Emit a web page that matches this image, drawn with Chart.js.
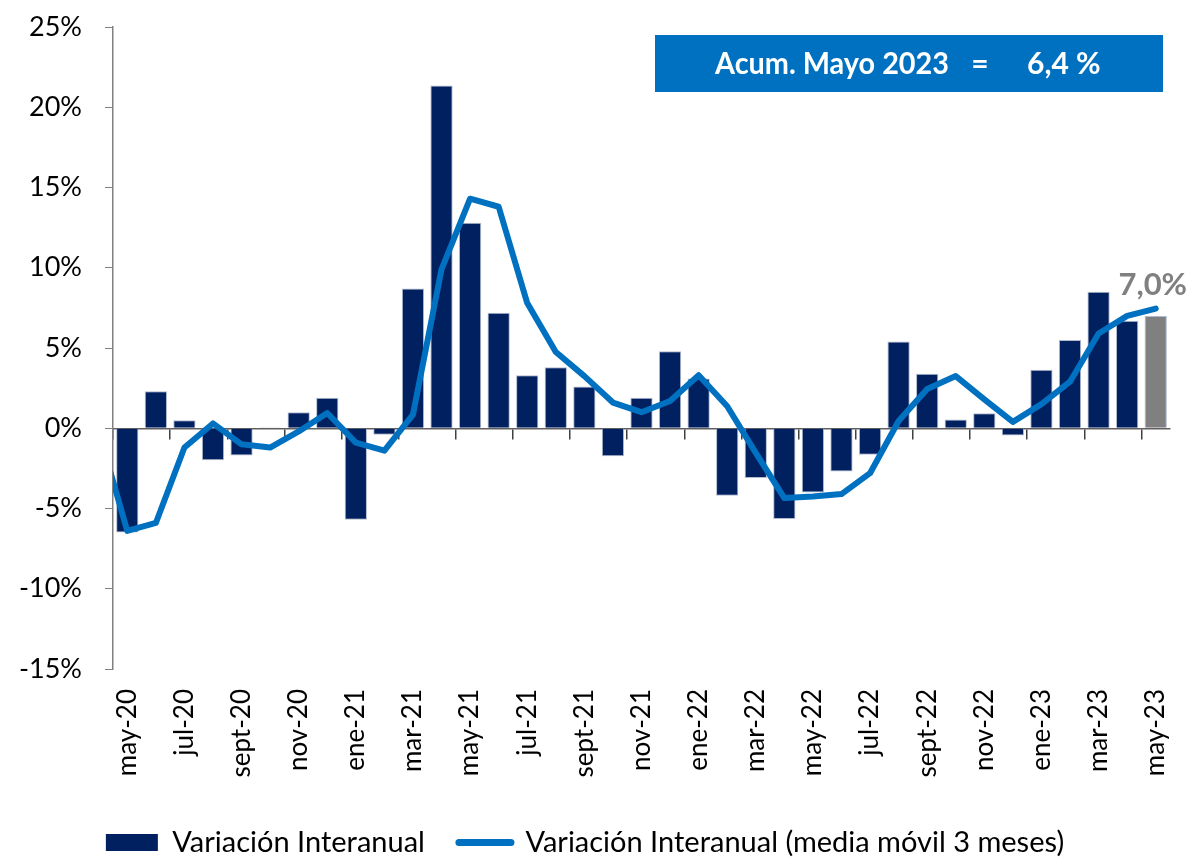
<!DOCTYPE html>
<html lang="es">
<head>
<meta charset="utf-8">
<title>Variación Interanual</title>
<script src="https://cdn.jsdelivr.net/npm/chart.js@4.4.1/dist/chart.umd.min.js"></script>
<style>
  html, body { margin: 0; padding: 0; background: #fff; }
  #wrap { width: 1191px; height: 861px; }
</style>
</head>
<body>
<div id="wrap"><canvas id="chart" width="1191" height="861"></canvas></div>
<script>
// abr-20 only carries the moving average (the line comes in from the left edge)
const months = [
  "abr-20", "may-20", "jun-20", "jul-20", "ago-20", "sept-20", "oct-20", "nov-20", "dic-20",
  "ene-21", "feb-21", "mar-21", "abr-21", "may-21", "jun-21", "jul-21", "ago-21", "sept-21", "oct-21", "nov-21", "dic-21",
  "ene-22", "feb-22", "mar-22", "abr-22", "may-22", "jun-22", "jul-22", "ago-22", "sept-22", "oct-22", "nov-22", "dic-22",
  "ene-23", "feb-23", "mar-23", "abr-23", "may-23"
];
const variacion = [
  null, -6.5, 2.3, 0.5, -2.0, -1.7, 0.05, 1.0, 1.9,
  -5.7, -0.4, 8.7, 21.35, 12.8, 7.2, 3.3, 3.8, 2.6, -1.75, 1.9, 4.8,
  3.1, -4.2, -3.1, -5.65, -4.0, -2.7, -1.65, 5.4, 3.4, 0.55, 0.93, -0.45,
  3.65, 5.5, 8.5, 6.7, 7.0
];
const mediaMovil = [
  -0.2, -6.4, -5.9, -1.2, 0.3, -1.0, -1.2, -0.2, 0.95,
  -0.9, -1.4, 0.85, 9.9, 14.3, 13.8, 7.8, 4.75, 3.25, 1.6, 1.0, 1.7,
  3.3, 1.37, -1.53, -4.35, -4.25, -4.1, -2.8, 0.45, 2.45, 3.25, 1.8, 0.4,
  1.5, 2.9, 5.9, 7.0, 7.45
];
const yTicks = [-15, -10, -5, 0, 5, 10, 15, 20, 25];
const acumText = ["Acum. Mayo 2023", "=", "6,4 %"];

const NAVY = "#002060";
const GREY = "#808080";
const BLUE = "#0070C0";
const FONT = "Lato, 'Open Sans', sans-serif";

Chart.defaults.font.family = FONT;

const lastIdx = months.length - 1;
const firstShown = months[1];

const fmtPct = v => v.toFixed(1).replace(".", ",") + "%";

// let layout.padding alone decide the plot edges
function noPad(scale) {
  scale.paddingLeft = 0;
  scale.paddingRight = 0;
  scale.paddingTop = 0;
  scale.paddingBottom = 0;
}

// grey value label over the last bar
const lastLabel = {
  id: "lastLabel",
  afterDatasetsDraw(chart) {
    let meta = chart.getDatasetMeta(0);
    let bar = meta.data[lastIdx];
    if (!bar) return;
    let ctx = chart.ctx;
    ctx.save();
    ctx.font = "bold 31px " + FONT;
    ctx.fillStyle = GREY;
    ctx.textAlign = "center";
    ctx.textBaseline = "middle";
    ctx.fillText(fmtPct(variacion[lastIdx]), bar.x - 3, bar.y - 31);
    ctx.restore();
  }
};

// blue box with the year-to-date figure
const acumBox = {
  id: "acumBox",
  afterDraw(chart) {
    let ctx = chart.ctx;
    let right = chart.chartArea.right - 7;
    let left = right - 508;
    let top = 35, h = 57;
    ctx.save();
    ctx.fillStyle = BLUE;
    ctx.fillRect(left, top, right - left, h);
    ctx.fillStyle = "#fff";
    ctx.font = "bold 30px " + FONT;
    ctx.textBaseline = "middle";
    ctx.textAlign = "left";
    ctx.fillText(acumText[0], left + 60, top + h / 2 + 1, 234);
    ctx.textAlign = "center";
    ctx.fillText(acumText[1], left + 325, top + h / 2 + 1);
    ctx.textAlign = "left";
    ctx.fillText(acumText[2], left + 372, top + h / 2 + 1, 80);
    ctx.restore();
  }
};

new Chart(document.getElementById("chart"), {
  type: "bar",
  data: {
    labels: months,
    datasets: [
      {
        type: "bar",
        label: "Variación Interanual",
        data: variacion,
        backgroundColor: ctx => ctx.dataIndex === lastIdx ? GREY : NAVY,
        borderColor: "rgba(170,180,200,0.9)",
        borderWidth: 1,
        barPercentage: 0.78,
        categoryPercentage: 1,
        order: 1
      },
      {
        type: "line",
        label: "Variación Interanual (media móvil 3 meses)",
        data: mediaMovil,
        borderColor: BLUE,
        borderWidth: 6,
        borderCapStyle: "round",
        borderJoinStyle: "round",
        pointRadius: 0,
        tension: 0,
        clip: { left: 0, top: 10, right: 10, bottom: 10 },
        order: 0
      }
    ]
  },
  options: {
    responsive: false,
    animation: false,
    devicePixelRatio: 1,
    layout: { padding: { top: 27, right: 21, bottom: -6, left: 0 } },
    scales: {
      x: {
        type: "category",
        min: firstShown,
        offset: true,
        grid: { display: false, drawTicks: false },
        border: { display: false },
        ticks: {
          autoSkip: false,
          minRotation: 90,
          maxRotation: 90,
          padding: 20,
          color: "#000",
          font: { size: 26 },
          callback(value, index) {
            return index % 2 === 0 ? this.getLabelForValue(value) : "";
          }
        },
        afterFit(scale) { scale.height = 125; noPad(scale); }
      },
      x0: {
        type: "category",
        axis: "x",
        position: { y: 0 },
        min: firstShown,
        offset: true,
        grid: {
          offset: true,
          drawOnChartArea: false,
          tickLength: 10,
          lineWidth: 1.5,
          color: ctx => (ctx.index !== undefined && ctx.index % 2 === 0) ? "#404040" : "rgba(0,0,0,0)"
        },
        border: { color: "#606060", width: 1.5 },
        ticks: { display: false },
        afterFit(scale) { noPad(scale); }
      },
      y: {
        min: yTicks[0],
        max: yTicks[yTicks.length - 1],
        afterBuildTicks(scale) { scale.ticks = yTicks.map(v => ({ value: v })); },
        ticks: {
          padding: 23,
          color: "#000",
          font: { size: 27 },
          callback: v => v + "%"
        },
        grid: { drawOnChartArea: false, tickLength: 8, color: "#808080" },
        border: { color: "#808080", width: 1.5 },
        afterFit(scale) { scale.width = 113; noPad(scale); }
      }
    },
    plugins: {
      tooltip: { enabled: false },
      legend: {
        position: "bottom",
        labels: {
          usePointStyle: true,
          pointStyleWidth: 52,
          boxHeight: 17,
          padding: 34,
          color: "#000",
          font: { size: 29, lineHeight: 1 },
          sort: (a, b) => a.datasetIndex - b.datasetIndex,
          generateLabels(chart) {
            let items = Chart.defaults.plugins.legend.labels.generateLabels(chart);
            items.forEach(it => {
              if (it.datasetIndex === 1) {
                it.pointStyle = "line";
                it.strokeStyle = BLUE;
                it.lineWidth = 7;
                it.lineCap = "round";
              } else {
                it.pointStyle = "rect";
                it.fillStyle = NAVY;
                it.strokeStyle = NAVY;
                it.lineWidth = 0;
              }
            });
            return items;
          }
        }
      }
    }
  },
  plugins: [lastLabel, acumBox]
});
</script>
</body>
</html>
